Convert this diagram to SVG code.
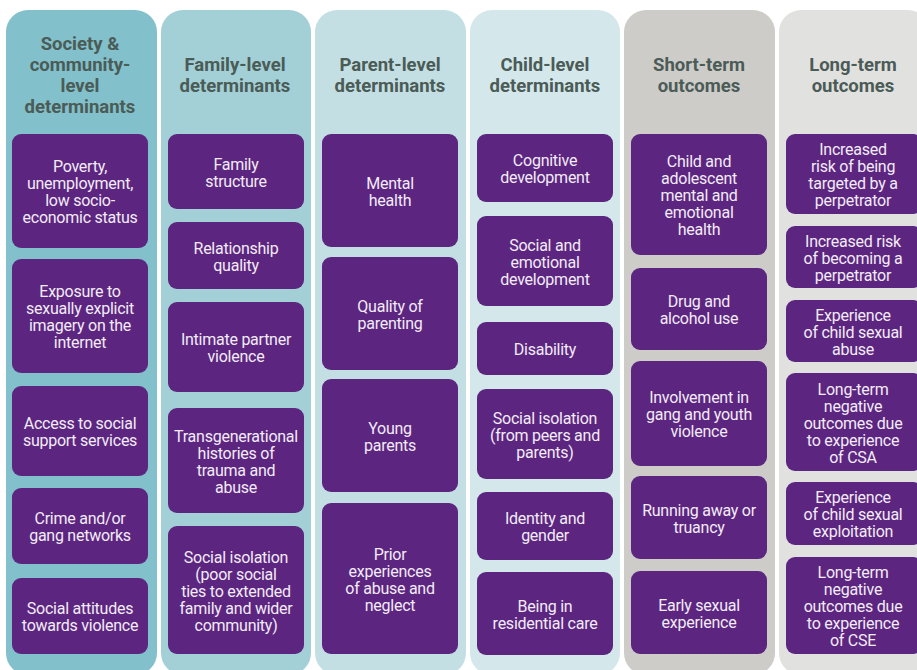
<svg xmlns="http://www.w3.org/2000/svg" width="917" height="670" viewBox="0 0 917 670">
<style>
.hd{font-family:Roboto,"Liberation Sans",sans-serif;font-weight:bold;font-size:18.5px;fill:#4b5b56;text-anchor:middle}
.bx{fill:#5c2580}
.bt{font-family:Roboto,"Liberation Sans",sans-serif;font-size:16px;letter-spacing:-0.25px;fill:#f2ecf6;text-anchor:middle}
</style>
<rect width="917" height="670" fill="#ffffff"/>
<g id="col1">
<rect x="6" y="10" width="151" height="665" rx="22" fill="#82c0cb"/>
<text class="hd"><tspan x="80" y="50">Society &amp;</tspan><tspan x="80" y="71">community-</tspan><tspan x="80" y="92">level</tspan><tspan x="80" y="113">determinants</tspan></text>
<g id="n1a"><rect class="bx" x="12" y="134" width="136" height="114" rx="9"/><text class="bt"><tspan x="80" y="172">Poverty,</tspan><tspan x="80" y="189">unemployment,</tspan><tspan x="80" y="206">low socio-</tspan><tspan x="80" y="223">economic status</tspan></text></g>
<g id="n1b"><rect class="bx" x="12" y="259" width="136" height="114" rx="9"/><text class="bt"><tspan x="80" y="297">Exposure to</tspan><tspan x="80" y="314">sexually explicit</tspan><tspan x="80" y="331">imagery on the</tspan><tspan x="80" y="348">internet</tspan></text></g>
<g id="n1c"><rect class="bx" x="12" y="386" width="136" height="90" rx="9"/><text class="bt"><tspan x="80" y="429">Access to social</tspan><tspan x="80" y="446">support services</tspan></text></g>
<g id="n1d"><rect class="bx" x="12" y="488" width="136" height="76" rx="9"/><text class="bt"><tspan x="80" y="524">Crime and/or</tspan><tspan x="80" y="541">gang networks</tspan></text></g>
<g id="n1e"><rect class="bx" x="12" y="578" width="136" height="76" rx="9"/><text class="bt"><tspan x="80" y="614">Social attitudes</tspan><tspan x="80" y="631">towards violence</tspan></text></g>
</g>
<g id="col2">
<rect x="161" y="10" width="150" height="665" rx="22" fill="#a2d0d6"/>
<text class="hd"><tspan x="235" y="71">Family-level</tspan><tspan x="235" y="92">determinants</tspan></text>
<g id="n2a"><rect class="bx" x="168" y="134" width="136" height="75" rx="9"/><text class="bt"><tspan x="236" y="169.5">Family</tspan><tspan x="236" y="186.5">structure</tspan></text></g>
<g id="n2b"><rect class="bx" x="168" y="222" width="136" height="67" rx="9"/><text class="bt"><tspan x="236" y="253.5">Relationship</tspan><tspan x="236" y="270.5">quality</tspan></text></g>
<g id="n2c"><rect class="bx" x="168" y="302" width="136" height="90" rx="9"/><text class="bt"><tspan x="236" y="345">Intimate partner</tspan><tspan x="236" y="362">violence</tspan></text></g>
<g id="n2d"><rect class="bx" x="168" y="408" width="136" height="105" rx="9"/><text class="bt"><tspan x="236" y="441.5">Transgenerational</tspan><tspan x="236" y="458.5">histories of</tspan><tspan x="236" y="475.5">trauma and</tspan><tspan x="236" y="492.5">abuse</tspan></text></g>
<g id="n2e"><rect class="bx" x="168" y="526" width="136" height="128" rx="9"/><text class="bt"><tspan x="236" y="562.5">Social isolation</tspan><tspan x="236" y="579.5">(poor social</tspan><tspan x="236" y="596.5">ties to extended</tspan><tspan x="236" y="613.5">family and wider</tspan><tspan x="236" y="630.5">community)</tspan></text></g>
</g>
<g id="col3">
<rect x="315" y="10" width="151" height="665" rx="22" fill="#c4dfe3"/>
<text class="hd"><tspan x="390" y="71">Parent-level</tspan><tspan x="390" y="92">determinants</tspan></text>
<g id="n3a"><rect class="bx" x="322" y="134" width="136" height="113" rx="9"/><text class="bt"><tspan x="390" y="188.5">Mental</tspan><tspan x="390" y="205.5">health</tspan></text></g>
<g id="n3b"><rect class="bx" x="322" y="257" width="136" height="113" rx="9"/><text class="bt"><tspan x="390" y="311.5">Quality of</tspan><tspan x="390" y="328.5">parenting</tspan></text></g>
<g id="n3c"><rect class="bx" x="322" y="379" width="136" height="113" rx="9"/><text class="bt"><tspan x="390" y="433.5">Young</tspan><tspan x="390" y="450.5">parents</tspan></text></g>
<g id="n3d"><rect class="bx" x="322" y="503" width="136" height="151" rx="9"/><text class="bt"><tspan x="390" y="559.5">Prior</tspan><tspan x="390" y="576.5">experiences</tspan><tspan x="390" y="593.5">of abuse and</tspan><tspan x="390" y="610.5">neglect</tspan></text></g>
</g>
<g id="col4">
<rect x="470" y="10" width="150" height="665" rx="22" fill="#d4e8ec"/>
<text class="hd"><tspan x="545" y="71">Child-level</tspan><tspan x="545" y="92">determinants</tspan></text>
<g id="n4a"><rect class="bx" x="477" y="134" width="136" height="68" rx="9"/><text class="bt"><tspan x="545" y="166">Cognitive</tspan><tspan x="545" y="183">development</tspan></text></g>
<g id="n4b"><rect class="bx" x="477" y="216" width="136" height="90" rx="9"/><text class="bt"><tspan x="545" y="250.5">Social and</tspan><tspan x="545" y="267.5">emotional</tspan><tspan x="545" y="284.5">development</tspan></text></g>
<g id="n4c"><rect class="bx" x="477" y="322" width="136" height="53" rx="9"/><text class="bt"><tspan x="545" y="355">Disability</tspan></text></g>
<g id="n4d"><rect class="bx" x="477" y="389" width="136" height="90" rx="9"/><text class="bt"><tspan x="545" y="423.5">Social isolation</tspan><tspan x="545" y="440.5">(from peers and</tspan><tspan x="545" y="457.5">parents)</tspan></text></g>
<g id="n4e"><rect class="bx" x="477" y="492" width="136" height="68" rx="9"/><text class="bt"><tspan x="545" y="524">Identity and</tspan><tspan x="545" y="541">gender</tspan></text></g>
<g id="n4f"><rect class="bx" x="477" y="572" width="136" height="83" rx="9"/><text class="bt"><tspan x="545" y="611.5">Being in</tspan><tspan x="545" y="628.5">residential care</tspan></text></g>
</g>
<g id="col5">
<rect x="624" y="10" width="151" height="665" rx="22" fill="#cdccc9"/>
<text class="hd"><tspan x="699" y="71">Short-term</tspan><tspan x="699" y="92">outcomes</tspan></text>
<g id="n5a"><rect class="bx" x="631" y="134" width="136" height="121" rx="9"/><text class="bt"><tspan x="699" y="167">Child and</tspan><tspan x="699" y="184">adolescent</tspan><tspan x="699" y="201">mental and</tspan><tspan x="699" y="218">emotional</tspan><tspan x="699" y="235">health</tspan></text></g>
<g id="n5b"><rect class="bx" x="631" y="268" width="136" height="82" rx="9"/><text class="bt"><tspan x="699" y="307">Drug and</tspan><tspan x="699" y="324">alcohol use</tspan></text></g>
<g id="n5c"><rect class="bx" x="631" y="361" width="136" height="105" rx="9"/><text class="bt"><tspan x="699" y="403">Involvement in</tspan><tspan x="699" y="420">gang and youth</tspan><tspan x="699" y="437">violence</tspan></text></g>
<g id="n5d"><rect class="bx" x="631" y="476" width="136" height="83" rx="9"/><text class="bt"><tspan x="699" y="515.5">Running away or</tspan><tspan x="699" y="532.5">truancy</tspan></text></g>
<g id="n5e"><rect class="bx" x="631" y="571" width="136" height="83" rx="9"/><text class="bt"><tspan x="699" y="610.5">Early sexual</tspan><tspan x="699" y="627.5">experience</tspan></text></g>
</g>
<g id="col6">
<rect x="779" y="10" width="151" height="665" rx="22" fill="#e1e1e0"/>
<text class="hd"><tspan x="853" y="71">Long-term</tspan><tspan x="853" y="92">outcomes</tspan></text>
<g id="n6a"><rect class="bx" x="786" y="134" width="136" height="80" rx="9"/><text class="bt"><tspan x="853" y="155">Increased</tspan><tspan x="853" y="172">risk of being</tspan><tspan x="853" y="189">targeted by a</tspan><tspan x="853" y="206">perpetrator</tspan></text></g>
<g id="n6b"><rect class="bx" x="786" y="226" width="136" height="62" rx="9"/><text class="bt"><tspan x="853" y="246.5">Increased risk</tspan><tspan x="853" y="263.5">of becoming a</tspan><tspan x="853" y="280.5">perpetrator</tspan></text></g>
<g id="n6c"><rect class="bx" x="786" y="300" width="136" height="62" rx="9"/><text class="bt"><tspan x="853" y="320.5">Experience</tspan><tspan x="853" y="337.5">of child sexual</tspan><tspan x="853" y="354.5">abuse</tspan></text></g>
<g id="n6d"><rect class="bx" x="786" y="373" width="136" height="98" rx="9"/><text class="bt"><tspan x="853" y="394.5">Long-term</tspan><tspan x="853" y="411.5">negative</tspan><tspan x="853" y="428.5">outcomes due</tspan><tspan x="853" y="445.5">to experience</tspan><tspan x="853" y="462.5">of CSA</tspan></text></g>
<g id="n6e"><rect class="bx" x="786" y="482" width="136" height="63" rx="9"/><text class="bt"><tspan x="853" y="503">Experience</tspan><tspan x="853" y="520">of child sexual</tspan><tspan x="853" y="537">exploitation</tspan></text></g>
<g id="n6f"><rect class="bx" x="786" y="557" width="136" height="97" rx="9"/><text class="bt"><tspan x="853" y="578">Long-term</tspan><tspan x="853" y="595">negative</tspan><tspan x="853" y="612">outcomes due</tspan><tspan x="853" y="629">to experience</tspan><tspan x="853" y="646">of CSE</tspan></text></g>
</g>
<g id="connectors"></g>
</svg>
